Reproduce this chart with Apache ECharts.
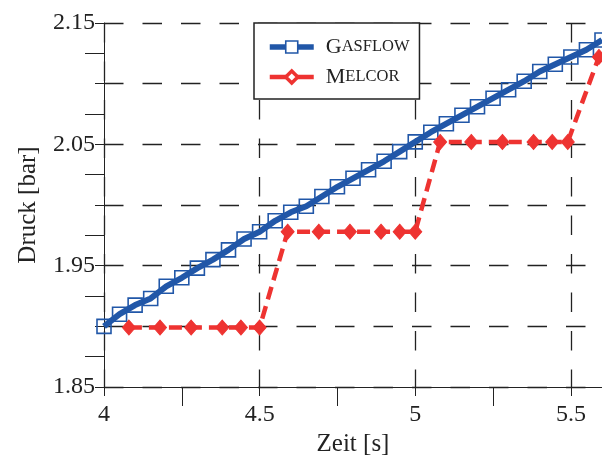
<!DOCTYPE html>
<html>
<head>
<meta charset="utf-8">
<script src="https://cdn.jsdelivr.net/npm/echarts@6/dist/echarts.min.js"></script>
<style>
html,body{margin:0;padding:0;background:#fff;}
#chart{width:602px;height:455px;}
</style>
</head>
<body>
<div id="chart"></div>
<script>
// ---- data ----
const gasflowTime = [4.00,4.05,4.10,4.15,4.20,4.25,4.30,4.35,4.40,4.45,4.50,4.55,4.60,4.65,4.70,4.75,4.80,4.85,4.90,4.95,5.00,5.05,5.10,5.15,5.20,5.25,5.30,5.35,5.40,5.45,5.50,5.55,5.60];
const gasflowDruck = [1.900,1.910,1.9175,1.923,1.933,1.940,1.948,1.955,1.963,1.972,1.978,1.987,1.994,1.999,2.007,2.015,2.022,2.029,2.036,2.044,2.052,2.060,2.067,2.074,2.081,2.088,2.095,2.102,2.110,2.116,2.122,2.128,2.136];
const melcorTime = [4.08,4.18,4.28,4.38,4.44,4.50,4.59,4.69,4.79,4.89,4.95,5.00,5.08,5.18,5.28,5.38,5.44,5.49,5.59];
const melcorDruck = [1.899,1.899,1.899,1.899,1.899,1.899,1.978,1.978,1.978,1.978,1.978,1.978,2.052,2.052,2.052,2.052,2.052,2.052,2.122];
const xMajorTicks = [4, 4.5, 5, 5.5];
const xMinorTicks = [4.25, 4.75, 5.25];
const yLabelValues = [1.85, 1.95, 2.05, 2.15];
const seriesNames = ['Gasflow', 'Melcor'];

const FONT = '"Liberation Serif", "DejaVu Serif", serif';
const INK = '#222';
const BLUE = '#2157a8';
const RED = '#ee3331';
const dash = [19.5, 19];

function pairs(xs, ys){ return xs.map((x,i)=>[x, ys[i]]); }

const chart = echarts.init(document.getElementById('chart'), null, {renderer:'canvas'});
chart.setOption({
  animation: false,
  backgroundColor: '#fff',
  grid: {left: 104, right: 0, top: 23, bottom: 68, containLabel: false, outerBoundsMode: 'none'},
  xAxis: [{
    type: 'value', min: 4, max: 5.6, interval: 0.5,
    name: 'Zeit [s]', nameLocation: 'middle', nameGap: 45,
    nameTextStyle: {fontFamily: FONT, fontSize: 25, color: INK},
    axisLine: {show: true, onZero: false, lineStyle: {color: INK, width: 1}},
    axisTick: {show: true, length: 9, lineStyle: {color: INK, width: 1}, customValues: xMajorTicks},
    axisLabel: {fontFamily: FONT, fontSize: 24, color: INK, margin: 16,
      formatter: v => xMajorTicks.some(t => Math.abs(t - v) < 1e-6) ? String(v) : ''},
    splitLine: {show: true, lineStyle: {color: INK, width: 1.3, type: dash}}
  },{
    type: 'value', min: 4, max: 5.6, position: 'bottom', gridIndex: 0,
    axisLine: {show: false},
    axisTick: {show: true, length: 19, lineStyle: {color: INK, width: 1}, customValues: xMinorTicks},
    axisLabel: {show: false},
    splitLine: {show: false}
  }],
  yAxis: {
    type: 'value', min: 1.85, max: 2.15, interval: 0.05,
    name: 'Druck [bar]', nameLocation: 'middle', nameGap: 63,
    nameTextStyle: {fontFamily: FONT, fontSize: 25, color: INK},
    axisLine: {show: true, onZero: false, lineStyle: {color: INK, width: 1}},
    axisTick: {show: true, length: 9, lineStyle: {color: INK, width: 1}},
    minorTick: {show: true, splitNumber: 2, length: 19, lineStyle: {color: INK, width: 1}},
    axisLabel: {fontFamily: FONT, fontSize: 24, color: INK, margin: 9,
      formatter: v => yLabelValues.some(t => Math.abs(t - v) < 1e-6) ? v.toFixed(2) : ''},
    splitLine: {show: true, lineStyle: {color: INK, width: 1.3, type: dash}}
  },
  legend: {
    orient: 'vertical', left: 254, top: 23,
    backgroundColor: '#fff', borderColor: INK, borderWidth: 1.5,
    padding: [13, 10, 11, 13], itemGap: 8, itemWidth: 44, itemHeight: 15,
    data: [
      {name: seriesNames[0],
       lineStyle: {color: BLUE, width: 5.5, type: 'solid'},
       itemStyle: {color: '#fff', borderColor: BLUE, borderWidth: 1.6}},
      {name: seriesNames[1],
       lineStyle: {color: RED, width: 4.5, type: 'solid'},
       itemStyle: {color: '#fff', borderColor: RED, borderWidth: 3.5}}
    ],
    formatter: n => '{big|' + n[0].toUpperCase() + '}{small|' + n.slice(1).toUpperCase() + '}',
    textStyle: {
      fontFamily: FONT, color: INK,
      rich: {
        big: {fontFamily: FONT, fontSize: 22, color: INK, lineHeight: 22, padding: [0,0,0,7]},
        small: {fontFamily: FONT, fontSize: 16.5, color: INK, lineHeight: 22}
      }
    }
  },
  series: [{
    name: seriesNames[0], type: 'line',
    data: pairs(gasflowTime, gasflowDruck),
    symbol: 'rect', symbolSize: 14, showAllSymbol: true,
    lineStyle: {color: BLUE, width: 6},
    itemStyle: {color: 'rgba(255,255,255,0)', borderColor: BLUE, borderWidth: 1.6},
    z: 2
  },{
    name: seriesNames[1], type: 'line',
    data: pairs(melcorTime, melcorDruck),
    symbol: 'diamond', symbolSize: [13, 15], showAllSymbol: true,
    lineStyle: {color: RED, width: 4.5, type: [13, 7]},
    itemStyle: {color: RED, borderColor: RED, borderWidth: 1},
    z: 3
  }]
});
</script>
</body>
</html>
